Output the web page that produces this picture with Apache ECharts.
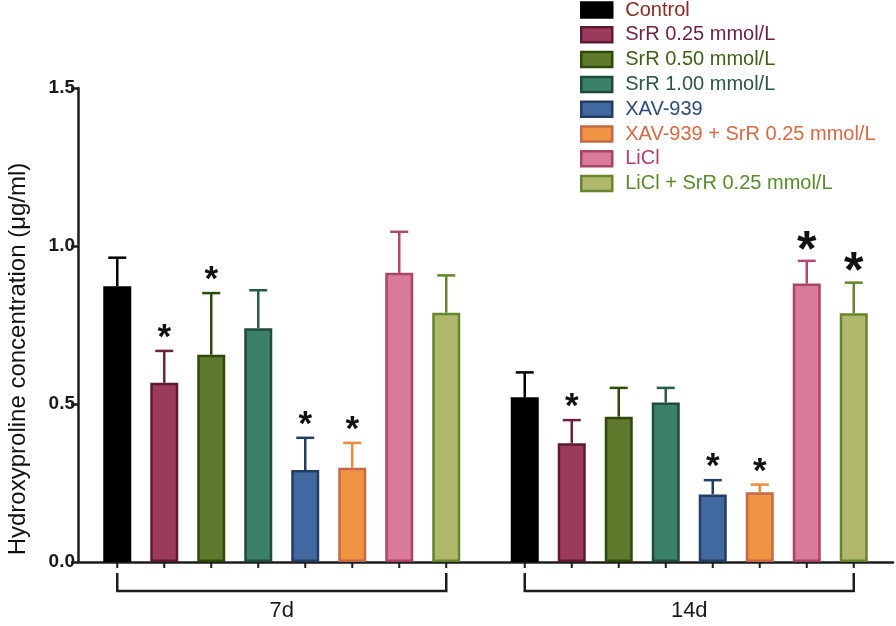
<!DOCTYPE html>
<html>
<head>
<meta charset="utf-8">
<script src="https://cdn.jsdelivr.net/npm/echarts@6/dist/echarts.min.js"></script>
<style>
html,body{margin:0;padding:0;background:#fff;}
#chart{width:896px;height:626px;}
</style>
</head>
<body>
<div id="chart"></div>
<script>
// ---------- data ----------
var categories = ['7d', '14d'];
var seriesNames = ['Control', 'SrR 0.25 mmol/L', 'SrR 0.50 mmol/L', 'SrR 1.00 mmol/L', 'XAV-939', 'XAV-939 + SrR 0.25 mmol/L', 'LiCl', 'LiCl + SrR 0.25 mmol/L'];
var yTicks = [0, 0.5, 1.0, 1.5];

var controlMean = [0.873, 0.521];
var srr025Mean  = [0.567, 0.376];
var srr050Mean  = [0.656, 0.460];
var srr100Mean  = [0.740, 0.505];
var xavMean     = [0.291, 0.214];
var xavSrrMean  = [0.298, 0.221];
var liclMean    = [0.915, 0.881];
var liclSrrMean = [0.789, 0.787];

var controlErr = [0.090, 0.079];
var srr025Err  = [0.101, 0.073];
var srr050Err  = [0.195, 0.091];
var srr100Err  = [0.120, 0.046];
var xavErr     = [0.102, 0.045];
var xavSrrErr  = [0.079, 0.024];
var liclErr    = [0.130, 0.072];
var liclSrrErr = [0.118, 0.097];

// significance marks per series, per time point
var controlSig = ['', ''];
var srr025Sig  = ['*', '*'];
var srr050Sig  = ['*', ''];
var srr100Sig  = ['', ''];
var xavSig     = ['*', '*'];
var xavSrrSig  = ['*', '*'];
var liclSig    = ['', '*'];
var liclSrrSig = ['', '*'];

var means = [controlMean, srr025Mean, srr050Mean, srr100Mean, xavMean, xavSrrMean, liclMean, liclSrrMean];
var errs  = [controlErr, srr025Err, srr050Err, srr100Err, xavErr, xavSrrErr, liclErr, liclSrrErr];
var sigs  = [controlSig, srr025Sig, srr050Sig, srr100Sig, xavSig, xavSrrSig, liclSig, liclSrrSig];

// ---------- styles ----------
var fills   = ['#000000', '#9c3a5c', '#5f7a2c', '#3a806b', '#4268a0', '#ee9442', '#d97b98', '#b0b86c'];
var borders = ['#000000', '#5e1a35', '#2e4a0a', '#1f4a3d', '#243d63', '#c46a48', '#a8446a', '#66852e'];
var errColors = ['#000000', '#6e2040', '#2e4a0a', '#2a5a4a', '#243d63', '#f08a3a', '#b04a72', '#66852e'];
var legendText = ['#8b2a1e', '#6e1e3e', '#3e5e18', '#2a5648', '#2e4a78', '#d56a45', '#b0406e', '#5a8a2e'];
var bigStarStyle = {'6-1': true, '7-1': true};

var FONT = '"Liberation Sans", Arial, Helvetica, sans-serif';
var AXIS_COLOR = '#1c1c1c';
var BAR_W = 28;
var BAR_GAP = 19 / 28;
var BAR_STEP = BAR_W * (1 + BAR_GAP);
var N = seriesNames.length;

function offsetOf(i) { return (i - (N - 1) / 2) * BAR_STEP; }

var series = [];
seriesNames.forEach(function (name, i) {
  series.push({
    name: name,
    type: 'bar',
    barWidth: BAR_W,
    barGap: (BAR_GAP * 100) + '%',
    data: means[i],
    itemStyle: { color: fills[i], borderColor: borders[i], borderWidth: 2.5 },
    emphasis: { disabled: true },
    z: 2
  });
});

// error bars + significance stars
seriesNames.forEach(function (name, i) {
  var data = categories.map(function (c, k) { return [k, means[i][k], means[i][k] + errs[i][k]]; });
  series.push({
    type: 'custom',
    name: 'err' + i,
    data: data,
    z: 3,
    silent: true,
    encode: { x: 0, y: 2 },
    renderItem: function (params, api) {
      var k = api.value(0);
      var top = api.coord([k, api.value(2)]);
      var base = api.coord([k, api.value(1)]);
      var x = top[0] + offsetOf(i);
      var children = [
        { type: 'line', shape: { x1: x, y1: base[1], x2: x, y2: top[1] }, style: { stroke: errColors[i], lineWidth: 2.5 } },
        { type: 'line', shape: { x1: x - 9, y1: top[1], x2: x + 9, y2: top[1] }, style: { stroke: errColors[i], lineWidth: 2.5 } }
      ];
      var star = sigs[i][k];
      if (star) {
        var big = bigStarStyle[i + '-' + k];
        children.push({
          type: 'text',
          style: {
            text: star, x: x, y: top[1] + (big ? 16 : 5),
            align: 'center', verticalAlign: 'bottom',
            fontSize: big ? 50 : 35, fontWeight: 'bold', fontFamily: FONT, fill: '#111'
          }
        });
      }
      return { type: 'group', children: children };
    }
  });
});

// ticks under each bar + group brackets
series.push({
  type: 'custom',
  name: 'brackets',
  data: categories.map(function (c, k) { return [k, 0]; }),
  z: 1,
  silent: true,
  renderItem: function (params, api) {
    var k = api.value(0);
    var p = api.coord([k, 0]);
    var children = [];
    for (var i = 0; i < N; i++) {
      var x = p[0] + offsetOf(i);
      children.push({ type: 'line', shape: { x1: x, y1: p[1], x2: x, y2: p[1] + 6 }, style: { stroke: AXIS_COLOR, lineWidth: 2 } });
    }
    var xl = p[0] + offsetOf(0), xr = p[0] + offsetOf(N - 1);
    children.push({ type: 'polyline', shape: { points: [[xl, p[1] + 11], [xl, p[1] + 29], [xr, p[1] + 29], [xr, p[1] + 11]] }, style: { stroke: AXIS_COLOR, lineWidth: 2.5, fill: null } });
    return { type: 'group', children: children };
  }
});

var chart = echarts.init(document.getElementById('chart'));
chart.setOption({
  animation: false,
  backgroundColor: '#ffffff',
  textStyle: { fontFamily: FONT },
  grid: { left: 78, right: 3, top: 88, bottom: 64, containLabel: false, outerBoundsMode: 'none' },
  legend: {
    orient: 'vertical',
    left: 580,
    top: 0,
    padding: 0,
    itemWidth: 31,
    itemHeight: 15,
    itemGap: 4.8,
    selectedMode: false,
    textStyle: { fontSize: 20, fontFamily: FONT, padding: [0, 0, 0, 8] },
    data: seriesNames.map(function (n, i) {
      return { name: n, icon: 'rect', textStyle: { color: legendText[i] }, itemStyle: { color: fills[i], borderColor: borders[i], borderWidth: 2.5 } };
    })
  },
  xAxis: {
    type: 'category',
    data: categories,
    axisLine: { show: true, lineStyle: { color: AXIS_COLOR, width: 2.5 } },
    axisTick: { show: false },
    axisLabel: { margin: 38, fontSize: 22, color: '#1a1a1a', fontFamily: FONT },
    splitLine: { show: false }
  },
  yAxis: {
    type: 'value',
    min: yTicks[0],
    max: yTicks[yTicks.length - 1],
    interval: yTicks[1] - yTicks[0],
    name: 'Hydroxyproline concentration (μg/ml)',
    nameLocation: 'middle',
    nameGap: 48,
    nameTextStyle: { fontSize: 24, color: '#111', fontFamily: FONT, padding: [0, 68, 0, 0] },
    axisLine: { show: true, lineStyle: { color: AXIS_COLOR, width: 2.5 } },
    axisTick: { show: true, length: 7, lineStyle: { color: AXIS_COLOR, width: 2.5 } },
    axisLabel: { fontSize: 19, fontWeight: 'bold', color: '#1a1a1a', margin: 3, fontFamily: FONT, formatter: function (v) { return v.toFixed(1); } },
    splitLine: { show: false }
  },
  series: series
});
</script>
</body>
</html>
